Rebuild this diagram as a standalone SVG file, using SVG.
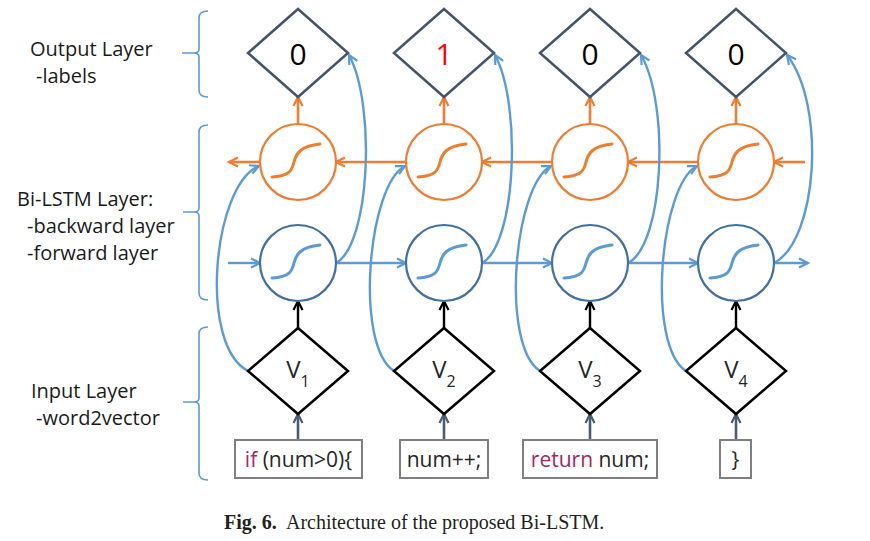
<svg xmlns="http://www.w3.org/2000/svg" width="870" height="541" viewBox="0 0 870 541">
<style>
.lbl{font-family:"Open Sans","Liberation Sans",sans-serif;font-size:20px;fill:#1a1a1a}
.brace{fill:none;stroke:#5b9bd5;stroke-width:1.6}
.outd{fill:#fff;stroke:#44546a;stroke-width:2.5}
.ind{fill:#fff;stroke:#000;stroke-width:2.5}
.oc{fill:#fff;stroke:#ed7d31;stroke-width:2.2}
.bc{fill:#fff;stroke:#41719c;stroke-width:2.2}
.os{fill:none;stroke:#ed7d31;stroke-width:3;stroke-linecap:round}
.bs{fill:none;stroke:#5b9bd5;stroke-width:3;stroke-linecap:round}
.box{fill:#fff;stroke:#7f7f7f;stroke-width:2}
.digit{font-family:"Open Sans","Liberation Sans",sans-serif;font-size:30px;text-anchor:middle}
.v{font-family:"Open Sans","Liberation Sans",sans-serif;font-size:24px;text-anchor:middle;fill:#262626}
.code{font-family:"Open Sans","Liberation Sans",sans-serif;font-size:21px;text-anchor:middle;fill:#262626}
.kw{fill:#9e2a62}
.cb{fill:none;stroke:#5b9bd5;stroke-width:2.4}
.co{fill:none;stroke:#ed7d31;stroke-width:2.6}
.ck{fill:none;stroke:#000;stroke-width:2.4}
.cs{fill:none;stroke:#4a5b75;stroke-width:2.6}
.cap{font-family:"Liberation Serif","Times New Roman",serif;font-size:20px;fill:#231f20}
</style>
<defs>
<marker id="mb" viewBox="0 0 12 12" refX="10" refY="6" markerWidth="12" markerHeight="12" markerUnits="userSpaceOnUse" orient="auto"><path d="M1,1.5 L10,6 L1,10.5" fill="none" stroke="#5b9bd5" stroke-width="2.2"/></marker>
<marker id="mo" viewBox="0 0 12 12" refX="10" refY="6" markerWidth="12" markerHeight="12" markerUnits="userSpaceOnUse" orient="auto"><path d="M1,1.5 L10,6 L1,10.5" fill="none" stroke="#ed7d31" stroke-width="2.2"/></marker>
<marker id="mk" viewBox="0 0 12 12" refX="10" refY="6" markerWidth="12" markerHeight="12" markerUnits="userSpaceOnUse" orient="auto"><path d="M1,1.5 L10,6 L1,10.5" fill="none" stroke="#000" stroke-width="2.2"/></marker>
<marker id="ms" viewBox="0 0 12 12" refX="10" refY="6" markerWidth="12" markerHeight="12" markerUnits="userSpaceOnUse" orient="auto"><path d="M1,1.5 L10,6 L1,10.5" fill="none" stroke="#4a5b75" stroke-width="2.2"/></marker>
<path id="sig" d="M-26,15 C-8,14 -6,8 -4,0 S2,-16 22,-18"/>
</defs>

<g id="layer-labels">
<text class="lbl" x="30" y="56">Output Layer</text>
<text class="lbl" x="36" y="83">-labels</text>
<text class="lbl" x="17" y="206">Bi-LSTM Layer:</text>
<text class="lbl" x="27" y="233">-backward layer</text>
<text class="lbl" x="27" y="260">-forward layer</text>
<text class="lbl" x="31" y="398">Input Layer</text>
<text class="lbl" x="36" y="425">-word2vector</text>
</g>

<g id="braces">
<path class="brace" d="M208,11 Q199,11 199,18 L199,49 Q199,53 194,53 L182,53 M194,53 Q199,53 199,57 L199,90 Q199,97 208,97"/>
<path class="brace" d="M208,125 Q199,125 199,132 L199,208 Q199,212 194,212 L183,212 M194,212 Q199,212 199,216 L199,293 Q199,300 208,300"/>
<path class="brace" d="M208,327 Q199,327 199,334 L199,398 Q199,402 194,402 L183,402 M194,402 Q199,402 199,406 L199,473 Q199,480 208,480"/>
</g>

<g id="connectors">
<path class="cs" marker-end="url(#ms)" d="M298,440 L298,414"/>
<path class="cs" marker-end="url(#ms)" d="M444,440 L444,414"/>
<path class="cs" marker-end="url(#ms)" d="M590,440 L590,414"/>
<path class="cs" marker-end="url(#ms)" d="M736,440 L736,414"/>
<path class="ck" marker-end="url(#mk)" d="M298,328 L298,301"/>
<path class="ck" marker-end="url(#mk)" d="M444,328 L444,301"/>
<path class="ck" marker-end="url(#mk)" d="M590,328 L590,301"/>
<path class="ck" marker-end="url(#mk)" d="M736,328 L736,301"/>
<path class="co" marker-end="url(#mo)" d="M298,124 L298,97"/>
<path class="co" marker-end="url(#mo)" d="M444,124 L444,97"/>
<path class="co" marker-end="url(#mo)" d="M590,124 L590,97"/>
<path class="co" marker-end="url(#mo)" d="M736,124 L736,97"/>
<path class="co" marker-end="url(#mo)" d="M260,162 L229,162"/>
<path class="co" marker-end="url(#mo)" d="M406,162 L336,162"/>
<path class="co" marker-end="url(#mo)" d="M552,162 L482,162"/>
<path class="co" marker-end="url(#mo)" d="M698,162 L628,162"/>
<path class="co" marker-end="url(#mo)" d="M805,162 L774,162"/>
<path class="cb" marker-end="url(#mb)" d="M228,263 L260,263"/>
<path class="cb" marker-end="url(#mb)" d="M336,263 L406,263"/>
<path class="cb" marker-end="url(#mb)" d="M482,263 L552,263"/>
<path class="cb" marker-end="url(#mb)" d="M628,263 L698,263"/>
<path class="cb" marker-end="url(#mb)" d="M774,263 L808,263"/>
<path class="cb" marker-end="url(#mb)" d="M248,371 C198,345 213,185 259,166"/>
<path class="cb" marker-end="url(#mb)" d="M394,371 C354,345 368,185 405,166"/>
<path class="cb" marker-end="url(#mb)" d="M540,371 C500,345 514,185 551,166"/>
<path class="cb" marker-end="url(#mb)" d="M686,371 C646,345 660,185 697,166"/>
<path class="cb" marker-end="url(#mb)" d="M336,263 C370,245 376,105 349,55"/>
<path class="cb" marker-end="url(#mb)" d="M482,263 C516,245 522,105 495,55"/>
<path class="cb" marker-end="url(#mb)" d="M628,263 C664,245 670,105 641,55"/>
<path class="cb" marker-end="url(#mb)" d="M774,263 C818,240 826,105 787,55"/>
</g>

<g id="out1"><path class="outd" d="M298,9 L348,53 L298,97 L248,53 Z"/><text class="digit" x="298" y="65" fill="#000">0</text></g>
<g id="out2"><path class="outd" d="M444,9 L494,53 L444,97 L394,53 Z"/><text class="digit" x="444" y="65" fill="#ff0000">1</text></g>
<g id="out3"><path class="outd" d="M590,9 L640,53 L590,97 L540,53 Z"/><text class="digit" x="590" y="65" fill="#000">0</text></g>
<g id="out4"><path class="outd" d="M736,9 L786,53 L736,97 L686,53 Z"/><text class="digit" x="736" y="65" fill="#000">0</text></g>

<g id="bwd1"><circle class="oc" cx="298" cy="162" r="38"/><use href="#sig" class="os" x="298" y="162"/></g>
<g id="bwd2"><circle class="oc" cx="444" cy="162" r="38"/><use href="#sig" class="os" x="444" y="162"/></g>
<g id="bwd3"><circle class="oc" cx="590" cy="162" r="38"/><use href="#sig" class="os" x="590" y="162"/></g>
<g id="bwd4"><circle class="oc" cx="736" cy="162" r="38"/><use href="#sig" class="os" x="736" y="162"/></g>

<g id="fwd1"><circle class="bc" cx="298" cy="263" r="38"/><use href="#sig" class="bs" x="298" y="263"/></g>
<g id="fwd2"><circle class="bc" cx="444" cy="263" r="38"/><use href="#sig" class="bs" x="444" y="263"/></g>
<g id="fwd3"><circle class="bc" cx="590" cy="263" r="38"/><use href="#sig" class="bs" x="590" y="263"/></g>
<g id="fwd4"><circle class="bc" cx="736" cy="263" r="38"/><use href="#sig" class="bs" x="736" y="263"/></g>

<g id="vec1"><path class="ind" d="M298,328 L348,371 L298,414 L248,371 Z"/><text class="v" x="298" y="378">V<tspan font-size="16" dy="9">1</tspan></text></g>
<g id="vec2"><path class="ind" d="M444,328 L494,371 L444,414 L394,371 Z"/><text class="v" x="444" y="378">V<tspan font-size="16" dy="9">2</tspan></text></g>
<g id="vec3"><path class="ind" d="M590,328 L640,371 L590,414 L540,371 Z"/><text class="v" x="590" y="378">V<tspan font-size="16" dy="9">3</tspan></text></g>
<g id="vec4"><path class="ind" d="M736,328 L786,371 L736,414 L686,371 Z"/><text class="v" x="736" y="378">V<tspan font-size="16" dy="9">4</tspan></text></g>

<g id="tok1"><rect class="box" x="235" y="440" width="127" height="38"/><text class="code" x="298.5" y="467"><tspan class="kw">if</tspan> (num&gt;0){</text></g>
<g id="tok2"><rect class="box" x="400" y="440" width="88" height="38"/><text class="code" x="444" y="467">num++;</text></g>
<g id="tok3"><rect class="box" x="523" y="440" width="134" height="38"/><text class="code" x="590" y="467"><tspan class="kw">return</tspan> num;</text></g>
<g id="tok4"><rect class="box" x="720" y="440" width="31" height="38"/><text class="code" x="735.5" y="467">}</text></g>

<g id="caption">
<text class="cap" x="224" y="529" font-weight="bold">Fig. 6.</text>
<text class="cap" x="286" y="529">Architecture of the proposed Bi-LSTM.</text>
</g>
</svg>
